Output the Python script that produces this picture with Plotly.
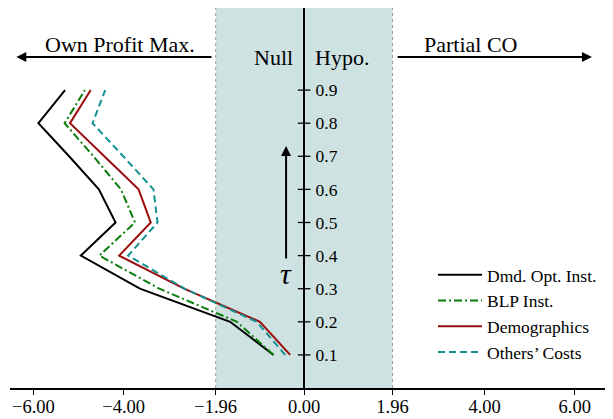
import plotly.graph_objects as go

tau = [0.1, 0.2, 0.3, 0.4, 0.5, 0.6, 0.7, 0.8, 0.9]
dmd_opt = [-0.68, -1.64, -3.64, -4.95, -4.18, -4.55, -5.21, -5.89, -5.30]
blp_inst = [-0.68, -1.49, -3.21, -4.54, -3.75, -4.06, -4.67, -5.31, -4.86]
demographics = [-0.31, -0.98, -2.66, -4.10, -3.40, -3.67, -4.43, -5.19, -4.73]
others_costs = [-0.42, -1.05, -2.65, -3.90, -3.25, -3.34, -4.01, -4.69, -4.41]

x_ticks = [-6.0, -4.0, -1.96, 0.0, 1.96, 4.0, 6.0]
x_tick_text = ["\u22126.00", "\u22124.00", "\u22121.96", "0.00", "1.96", "4.00", "6.00"]
y_ticks = [0.1, 0.2, 0.3, 0.4, 0.5, 0.6, 0.7, 0.8, 0.9]
crit = 1.96

FONT = "Liberation Serif"
XMIN, XMAX = -6.52, 6.78
YMIN, YMAX = 0.0, 1.148

fig = go.Figure()

series = [
    ("Dmd. Opt. Inst.", dmd_opt, "#000000", "solid"),
    ("BLP Inst.", blp_inst, "#0a7d0a", "8px,3px,2px,3px"),
    ("Demographics", demographics, "#9b0d0d", "solid"),
    ("Others\u2019 Costs", others_costs, "#13918f", "7px,4px"),
]
for name, vals, col, dash in series:
    fig.add_trace(go.Scatter(x=vals, y=tau, mode="lines", name=name,
                             line=dict(color=col, width=2, dash=dash)))

# crossing tick marks on the vertical zero axis
fig.add_trace(go.Scatter(x=[0] * len(y_ticks), y=y_ticks, mode="markers",
                         marker=dict(symbol="line-ew-open", size=9, color="black",
                                     line=dict(color="black", width=1.3)),
                         showlegend=False, hoverinfo="skip"))

# shaded null region
fig.add_shape(type="rect", xref="x", yref="paper", x0=-crit, x1=crit, y0=0, y1=1,
              fillcolor="#cfe2e2", line=dict(width=0), layer="below")
for xv in (-crit, crit):
    fig.add_shape(type="line", xref="x", yref="paper", x0=xv, x1=xv, y0=0, y1=1,
                  line=dict(color="#9a9a9a", width=1, dash="dot"), layer="below")

# top arrows
arrow_y = 1.0
fig.add_annotation(x=-6.38, y=arrow_y, ax=-2.02, ay=arrow_y, xref="x", yref="y",
                   axref="x", ayref="y", showarrow=True, arrowhead=2, arrowsize=1.0,
                   arrowwidth=2, arrowcolor="black", text="")
fig.add_annotation(x=6.38, y=arrow_y, ax=2.04, ay=arrow_y, xref="x", yref="y",
                   axref="x", ayref="y", showarrow=True, arrowhead=2, arrowsize=1.0,
                   arrowwidth=2, arrowcolor="black", text="")

tfont = dict(family=FONT, size=22, color="black")
fig.add_annotation(x=-4.09, y=1.037, text="Own Profit Max.", showarrow=False,
                   xref="x", yref="y", font=tfont)
fig.add_annotation(x=3.70, y=1.037, text="Partial CO", showarrow=False,
                   xref="x", yref="y", font=tfont)
fig.add_annotation(x=-0.2, y=0.997, text="Null", showarrow=False, xanchor="right",
                   xref="x", yref="y", font=tfont)
fig.add_annotation(x=0.19, y=0.997, text="Hypo.", showarrow=False, xanchor="left",
                   xref="x", yref="y", font=tfont)

# tau arrow
fig.add_annotation(x=-0.4, y=0.731, ax=-0.4, ay=0.387, xref="x", yref="y",
                   axref="x", ayref="y", showarrow=True, arrowhead=2, arrowsize=1.0,
                   arrowwidth=2, arrowcolor="black", text="")
fig.add_annotation(x=-0.4, y=0.345, text="<i>\u03c4</i>", showarrow=False,
                   xref="x", yref="y", font=dict(family=FONT, size=30, color="black"))

# the page body adds an 8px offset, so the figure is sized to fill the rest of the window
fig.update_layout(
    width=605, height=411,
    margin=dict(l=2, r=3, t=0, b=31, autoexpand=False),
    plot_bgcolor="white", paper_bgcolor="white",
    font=dict(family=FONT, color="black"),
    showlegend=True,
    legend=dict(x=0.705, y=0.345, xanchor="left", yanchor="top",
                bgcolor="rgba(255,255,255,0)", font=dict(family=FONT, size=17.5),
                itemwidth=44, tracegroupgap=0),
    xaxis=dict(range=[XMIN, XMAX], showgrid=False, zeroline=False, automargin=False,
               showline=True, linecolor="black", linewidth=1.5,
               ticks="outside", ticklen=5, tickwidth=1.2, tickcolor="black",
               tickvals=x_ticks, ticktext=x_tick_text, ticklabelstandoff=-4,
               tickfont=dict(family=FONT, size=18.5, color="black")),
    yaxis=dict(range=[YMIN, YMAX], showgrid=False, zeroline=False, automargin=False,
               anchor="free", position=(0 - XMIN) / (XMAX - XMIN), side="right",
               showline=True, linecolor="black", linewidth=1.8,
               ticks="", tickvals=y_ticks, ticktext=[f"{v:.1f}" for v in y_ticks],
               ticklabelstandoff=7,
               tickfont=dict(family=FONT, size=17.5, color="black")),
)

fig.write_html("out.html")
